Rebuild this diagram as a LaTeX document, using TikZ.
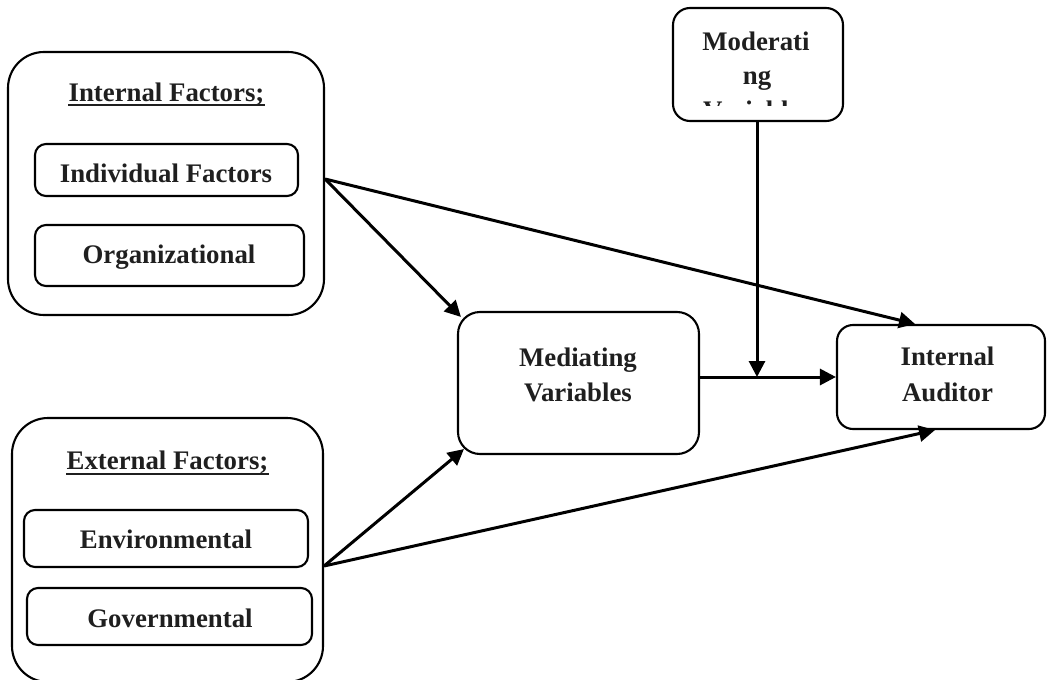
\documentclass[tikz,border=0pt]{standalone}
\usepackage{fontspec}
\setmainfont{Liberation Serif}
\usetikzlibrary{arrows.meta}
\begin{document}
\begin{tikzpicture}[x=1pt,y=-1pt,
  box/.style={draw, line width=2.1pt, rounded corners=#1, inner sep=0pt},
  box/.default=11pt,
  lbl/.style={font=\fontsize{26.8}{35}\selectfont\bfseries, text=black!88, inner sep=0pt, anchor=base},
  arr/.style={line width=3pt, -{Triangle[length=16pt,width=16pt]}},
  uline/.style={line width=2pt, draw=black!88}]
\useasboundingbox (0,0) rectangle (1047,680);

% Internal factors group
\node[box=36pt, minimum width=316pt, minimum height=263pt] (internal) at (166,183.5) {};
\node[lbl] (ift) at (166.5,101) {Internal Factors;};
\draw[uline] ([yshift=-4pt]ift.base west) -- ([yshift=-4pt]ift.base east);
\node[box, minimum width=263pt, minimum height=52pt] (indiv) at (166.5,170) {};
\node[lbl] (indivt) at (166,182) {Individual Factors};
\node[box, minimum width=269pt, minimum height=61pt] (org) at (169.5,255.5) {};
\node[lbl] (orgt) at (169,263) {Organizational};

% External factors group
\node[box=36pt, minimum width=311pt, minimum height=264pt] (external) at (167.5,550) {};
\node[lbl] (eft) at (167.5,469.5) {External Factors;};
\draw[uline] ([yshift=-4pt]eft.base west) -- ([yshift=-4pt]eft.base east);
\node[box, minimum width=284pt, minimum height=57pt] (env) at (166,538.5) {};
\node[lbl] (envt) at (166,548) {Environmental};
\node[box, minimum width=285pt, minimum height=57pt] (gov) at (169.5,616.5) {};
\node[lbl] (govt) at (170,627) {Governmental};

% Mediating
\node[box=22pt, minimum width=241pt, minimum height=142pt] (med) at (578.5,383) {};
\node[lbl] (medt1) at (578,366) {Mediating};
\node[lbl] (medt2) at (578,401) {Variables};

% Internal Auditor
\node[box=16pt, minimum width=208pt, minimum height=104pt] (aud) at (941,377) {};
\node[lbl] (audt1) at (947.5,365) {Internal};
\node[lbl] (audt2) at (947.5,401) {Auditor};

% Moderating
\begin{scope}
  \clip (673,8) rectangle (843,105.5);
  \node[lbl] (modt1) at (756,50) {Moderati};
  \node[lbl] (modt2) at (757,84) {ng};
  \node[lbl] (modt3) at (757,119) {Variables};
\end{scope}
\node[box=17pt, minimum width=170pt, minimum height=113pt] (mod) at (758,64.5) {};

% Connectors
\draw[arr] ([yshift=4.5pt]internal.east) -- ([xshift=4pt,yshift=-6pt]med.north west);
\draw[arr] ([yshift=4.5pt]internal.east) -- ([xshift=-26pt]aud.north);
\draw[arr] ([yshift=-16pt]external.east) -- ([xshift=7pt,yshift=6pt]med.south west);
\draw[arr] ([yshift=-16pt]external.east) -- ([xshift=-6pt]aud.south);
\draw[arr] (med.east |- aud.west) -- (aud.west);
\draw[arr] ([xshift=-1pt]mod.south) -- ([xshift=-1pt]mod.south |- aud.west);
\end{tikzpicture}
\end{document}
